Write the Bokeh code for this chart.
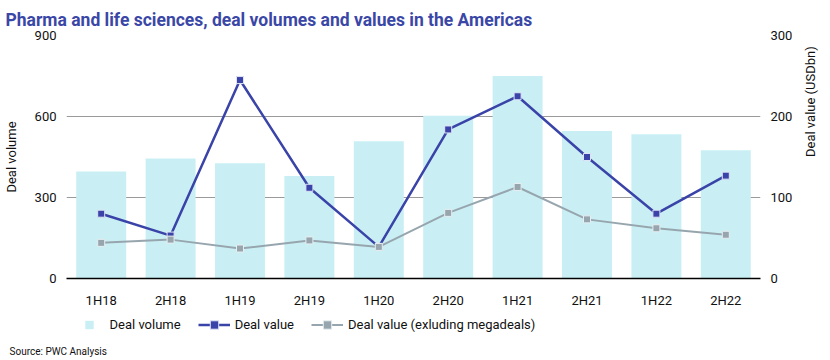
import math
from bokeh.plotting import figure
from bokeh.layouts import column
from bokeh.models import (ColumnDataSource, FactorRange, Range1d, LinearAxis,
                          Legend, LegendItem, FixedTicker)
from bokeh.embed import file_html
from bokeh.resources import INLINE

# ---- data ----
periods = ["1H18", "2H18", "1H19", "2H19", "1H20", "2H20", "1H21", "2H21", "1H22", "2H22"]
deal_volume = [396, 444, 427, 380, 508, 603, 750, 546, 534, 475]
deal_value = [80, 53, 245, 112, 39, 184, 225, 150, 80, 127]
deal_value_ex_mega = [44, 48, 37, 47, 39, 81, 113, 73, 62, 54]
left_ticks = [0, 300, 600, 900]
right_ticks = [0, 100, 200, 300]

FONT = "Roboto"
TITLE_COLOR = "#3a47a6"
BAR_COLOR = "#c9eff4"
BLUE = "#3a43a8"
GREY = "#97a6ae"
TEXT = "#111111"

src = ColumnDataSource(dict(p=periods, vol=deal_volume, val=deal_value, ex=deal_value_ex_mega))

p = figure(x_range=FactorRange(*periods), y_range=Range1d(0, 900),
           width=828, height=310, output_backend="svg", toolbar_location=None,
           min_border_left=65, min_border_right=68, min_border_top=35, min_border_bottom=32,
           outline_line_color=None, background_fill_color="white", border_fill_color="white")
p.extra_y_ranges = {"val": Range1d(0, 300)}

p.vbar(x="p", top="vol", width=0.72, source=src, fill_color=BAR_COLOR, line_color=None)
p.line(x="p", y="val", source=src, y_range_name="val", line_color=BLUE, line_width=2.5)
p.scatter(x="p", y="val", source=src, y_range_name="val", marker="square", size=7,
          fill_color=BLUE, line_color="#dfe3f5", line_width=1)
p.line(x="p", y="ex", source=src, y_range_name="val", line_color=GREY, line_width=2)
p.scatter(x="p", y="ex", source=src, y_range_name="val", marker="square", size=7,
          fill_color=GREY, line_color="#e8eef0", line_width=1)

# title
p.title.text = "Pharma and life sciences, deal volumes and values in the Americas"
p.title.text_font = FONT
p.title.text_font_size = "17.5px"
p.title.text_font_style = "bold"
p.title.text_color = TITLE_COLOR
p.title.align = "left"
p.title.offset = -61
p.title.standoff = 8
p.title.vertical_align = "top"

# axes
p.xaxis.axis_line_color = "black"
p.xaxis.axis_line_width = 1.5
p.xaxis.major_tick_line_color = None
p.xaxis.minor_tick_line_color = None
p.xaxis.major_tick_out = 0
p.xaxis.major_label_standoff = 14
p.xaxis.major_label_text_font = FONT
p.xaxis.major_label_text_font_size = "13px"
p.xaxis.major_label_text_color = TEXT

def style_y(ax, label, orient, standoff):
    ax.axis_line_color = None
    ax.major_tick_line_color = None
    ax.minor_tick_line_color = None
    ax.major_tick_out = 0
    ax.minor_tick_out = 0
    ax.major_label_standoff = 10
    ax.major_label_text_font = FONT
    ax.major_label_text_font_size = "13px"
    ax.major_label_text_color = TEXT
    ax.axis_label = label
    ax.axis_label_text_font = FONT
    ax.axis_label_text_font_size = "13px"
    ax.axis_label_text_font_style = "normal"
    ax.axis_label_text_color = TEXT
    ax.axis_label_standoff = standoff
    ax.axis_label_orientation = orient

p.yaxis.ticker = FixedTicker(ticks=left_ticks)
style_y(p.yaxis[0], "Deal volume", "parallel", 13)

ry = LinearAxis(y_range_name="val", ticker=FixedTicker(ticks=right_ticks))
style_y(ry, "Deal value (USDbn)", math.pi / 2, 15)
p.add_layout(ry, "right")

p.xgrid.grid_line_color = None
p.ygrid.grid_line_color = "#9a9a9a"
p.ygrid.grid_line_width = 1

# ---- legend strip ----
q = figure(width=828, height=28, output_backend="svg", toolbar_location=None,
           x_range=Range1d(0, 1), y_range=Range1d(0, 1), x_axis_type=None, y_axis_type=None,
           min_border=0, outline_line_color=None,
           background_fill_color="white", border_fill_color="white")
q.grid.grid_line_color = None
src2 = ColumnDataSource(dict(vol=deal_volume, val=deal_value, ex=deal_value_ex_mega,
                             i=list(range(len(periods)))))
k0 = q.scatter(x="i", y="vol", source=src2, marker="square", fill_color=BAR_COLOR, line_color=None, visible=False)
k1l = q.line(x="i", y="val", source=src2, line_color=BLUE, line_width=2.5, visible=False)
k1s = q.scatter(x="i", y="val", source=src2, marker="square", fill_color=BLUE, line_color="#dfe3f5",
                line_width=1, visible=False)
k2l = q.line(x="i", y="ex", source=src2, line_color=GREY, line_width=2, visible=False)
k2s = q.scatter(x="i", y="ex", source=src2, marker="square", fill_color=GREY, line_color="#e8eef0",
                line_width=1, visible=False)

legend = Legend(items=[LegendItem(label="Deal volume", renderers=[k0]),
                       LegendItem(label="Deal value", renderers=[k1l, k1s]),
                       LegendItem(label="Deal value (exluding megadeals)", renderers=[k2l, k2s])],
                location=(6.5, 3.5), orientation="horizontal", glyph_width=32, glyph_height=21,
                label_height=21, label_standoff=5, padding=0, margin=0, spacing=17,
                border_line_color=None, background_fill_alpha=0, click_policy="none",
                label_text_font=FONT, label_text_font_size="13px", label_text_color=TEXT)
q.add_layout(legend)

# ---- source strip (text as the strip's title) ----
r = figure(width=828, height=20, output_backend="svg", toolbar_location=None,
           x_range=Range1d(0, 1), y_range=Range1d(0, 1), x_axis_type=None, y_axis_type=None,
           min_border=0, min_border_top=18, outline_line_color=None,
           background_fill_color="white", border_fill_color="white")
r.grid.grid_line_color = None
r.title.text = "Source: PWC Analysis"
r.title.text_font = FONT
r.title.text_font_size = "10px"
r.title.text_font_style = "normal"
r.title.text_color = TEXT
r.title.align = "left"
r.title.offset = -57
r.title.standoff = 0

layout = column(p, q, r, spacing=0)
open("out.html", "w").write(file_html(layout, INLINE))
